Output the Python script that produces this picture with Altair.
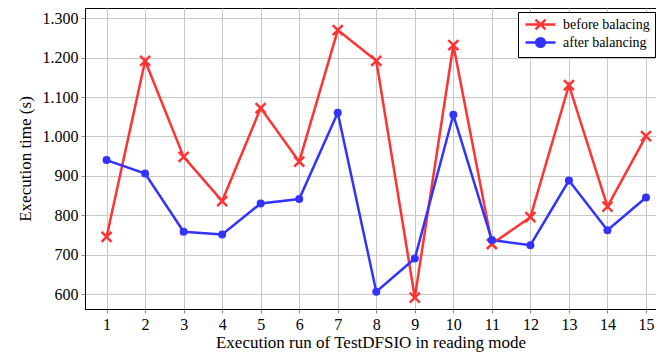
import altair as alt
import pandas as pd

runs = list(range(1, 16))
before = [745, 1192, 948, 836, 1072, 936, 1270, 1192, 591, 1232, 727, 795, 1130, 822, 1001]
after = [940, 906, 758, 751, 830, 841, 1060, 606, 690, 1055, 737, 724, 888, 762, 845]
series_names = ["before balacing", "after balancing"]
colors = ["#ff3333", "#3333ff"]

df = pd.DataFrame({
    "run": runs * 2,
    "time": before + after,
    "series": [series_names[0]] * len(runs) + [series_names[1]] * len(runs),
})

FONT = "Liberation Serif"
XPATH = "M-1,-1L1,1M-1,1L1,-1"
LEG_X = "M-2.5,0L2.5,0M-0.83,-0.83L0.83,0.83M-0.83,0.83L0.83,-0.83"
LEG_O = "M-2.5,0L2.5,0M0.72,0A0.72,0.72 0 1,1 -0.72,0A0.72,0.72 0 1,1 0.72,0Z"

xs = alt.Scale(domain=[0.44, 15.26], nice=False, zero=False)
ys = alt.Scale(domain=[562, 1326], nice=False, zero=False)

base = alt.Chart(df)

x_enc = alt.X("run:Q", scale=xs,
              axis=alt.Axis(values=runs, title="Execution run of TestDFSIO in reading mode",
                            format="d", titlePadding=2))
y_enc = alt.Y("time:Q", scale=ys,
              axis=alt.Axis(values=list(range(600, 1301, 100)), title="Execution time (s)",
                            labelExpr="replace(format(datum.value, ','), ',', '.')",
                            titlePadding=8))

b_data = base.transform_filter(alt.datum.series == series_names[0])
a_data = base.transform_filter(alt.datum.series == series_names[1])

line_before = b_data.mark_line(strokeWidth=2.5, color=colors[0]).encode(x=x_enc, y=y_enc)
line_after = a_data.mark_line(strokeWidth=2.5, color=colors[1]).encode(x="run:Q", y="time:Q")

pts_before = b_data.mark_point(
    shape=XPATH, size=100, strokeWidth=2.5, color=colors[0], filled=False, opacity=1
).encode(x="run:Q", y="time:Q")

pts_after = a_data.mark_circle(
    size=64, color=colors[1], opacity=1
).encode(x="run:Q", y="time:Q")

# legend-only layer: its marks are placed outside the canvas, only the legend is seen
legend_layer = base.mark_point(
    filled=True, opacity=1, strokeWidth=2.5
).encode(
    x=alt.value(-2000), y=alt.value(-2000),
    shape=alt.Shape("series:N", scale=alt.Scale(domain=series_names, range=[LEG_X, LEG_O]),
                    legend=alt.Legend(title=None, orient="none", legendX=433, legendY=4,
                                      symbolSize=144, symbolStrokeWidth=2.5, symbolOffset=10,
                                      labelOffset=15, fillColor="white",
                                      labelFont=FONT, labelFontSize=14,
                                      strokeColor="black", padding=5, rowPadding=-2,
                                      cornerRadius=0)),
    fill=alt.Fill("series:N", scale=alt.Scale(domain=series_names, range=colors)),
    stroke=alt.Stroke("series:N", scale=alt.Scale(domain=series_names, range=colors)),
)

chart = alt.layer(line_before, line_after, pts_before, pts_after, legend_layer).properties(
    width=571, height=301,
    padding={"left": 77, "top": 0, "right": 0, "bottom": 47},
    autosize=alt.AutoSizeParams(type="none"),
).configure(
    font=FONT
).configure_view(
    stroke="black", strokeWidth=1
).configure_axis(
    labelFont=FONT, titleFont=FONT, labelFontSize=16, titleFontSize=17,
    labelColor="black", titleColor="black", titleFontWeight="normal",
    gridColor="#c8c8c8", gridWidth=1, domainColor="black", domainWidth=1,
    tickColor="#888888", tickSize=4, labelPadding=3,
).configure_legend(
    labelFont=FONT, labelFontSize=14, labelColor="black", rowPadding=-2,
)

chart.save("out.html", embed_options={"renderer": "svg", "actions": False})
